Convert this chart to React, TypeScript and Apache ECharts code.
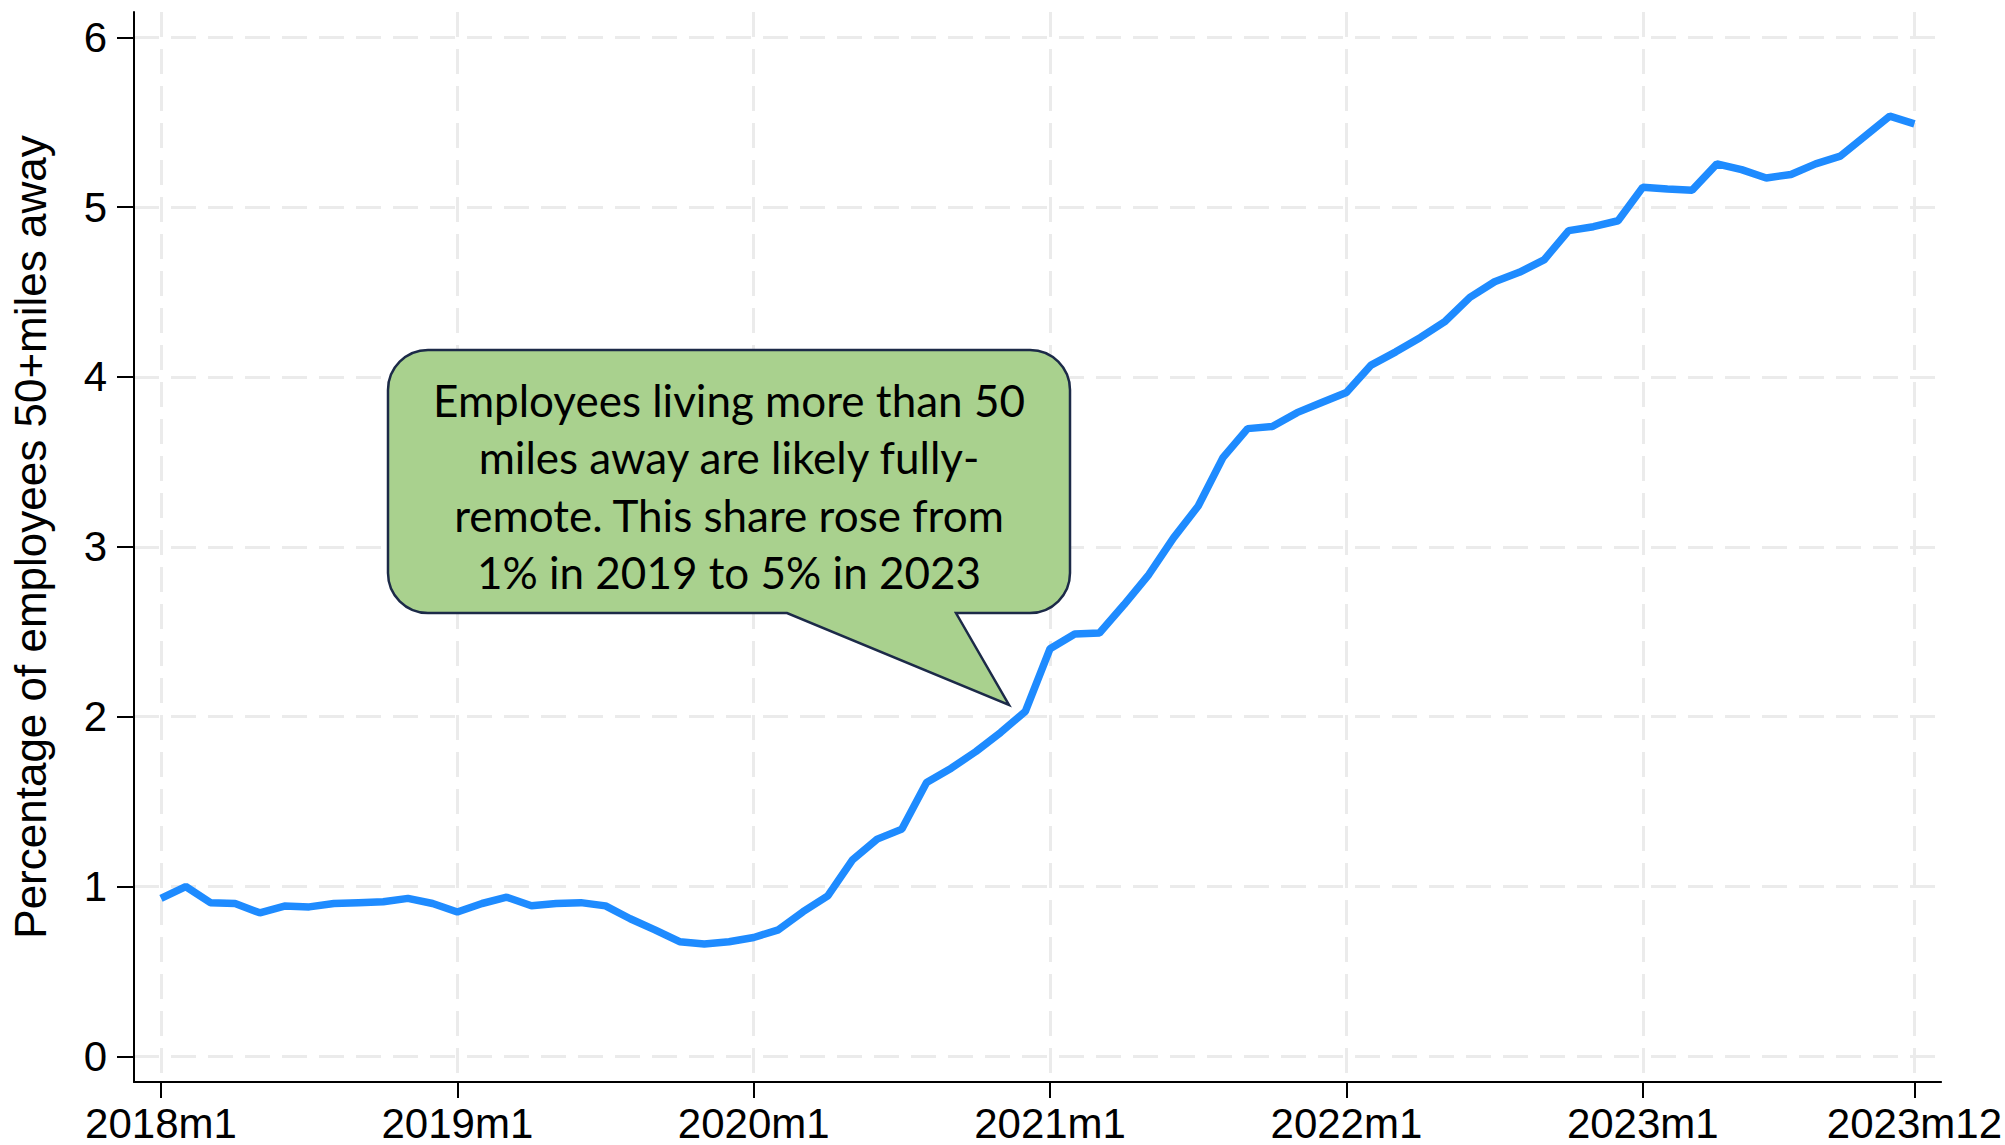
import React, { useEffect, useRef } from "react";
import * as echarts from "echarts";

const values2018 = [0.93, 1.0, 0.905, 0.9, 0.845, 0.885, 0.88, 0.9, 0.905, 0.91, 0.93, 0.9];
const values2019 = [0.85, 0.9, 0.937, 0.887, 0.9, 0.905, 0.886, 0.81, 0.745, 0.675, 0.662, 0.675];
const values2020 = [0.7, 0.745, 0.852, 0.945, 1.157, 1.279, 1.338, 1.613, 1.697, 1.795, 1.907, 2.031];
const values2021 = [2.4, 2.487, 2.493, 2.66, 2.837, 3.053, 3.24, 3.525, 3.696, 3.708, 3.79, 3.85];
const values2022 = [3.909, 4.07, 4.148, 4.233, 4.328, 4.469, 4.561, 4.616, 4.689, 4.862, 4.885, 4.92];
const values2023 = [5.117, 5.107, 5.1, 5.255, 5.221, 5.172, 5.192, 5.255, 5.3, 5.418, 5.536, 5.49];

const years = [2018, 2019, 2020, 2021, 2022, 2023];
const values = [...values2018, ...values2019, ...values2020, ...values2021, ...values2022, ...values2023];
const monthLabels: string[] = [];
years.forEach((y) => {
  for (let m = 1; m <= 12; m++) monthLabels.push(`${y}m${m}`);
});

const xTickMonths = [0, 12, 24, 36, 48, 60, 71];
const yTicks = [0, 1, 2, 3, 4, 5, 6];

const yTitle = "Percentage of employees 50+miles away";
const calloutText =
  "Employees living more than 50\nmiles away are likely fully-\nremote. This share rose from\n1% in 2019 to 5% in 2023";

const calloutPath =
  "M428,350 H1030 A40,40 0 0 1 1070,390 V573 A40,40 0 0 1 1030,613 H956 L1009,705 L787,613 H428 A40,40 0 0 1 388,573 V390 A40,40 0 0 1 428,350 Z";

let registered = false;

export default function App() {
  const ref = useRef<HTMLDivElement>(null);
  useEffect(() => {
    document.body.style.margin = "0";
    if (!registered) {
      echarts.graphic.registerShape("callout", echarts.graphic.extendPath(calloutPath, {}));
      registered = true;
    }
    const chart = echarts.init(ref.current!, null, { renderer: "svg" });
    const gridLine = { show: true, lineStyle: { type: [25, 12], color: "#ebebeb", width: 3 } };
    const labelFont = { fontSize: 42, fontFamily: "Liberation Sans", color: "#000" };
    chart.setOption({
      animation: false,
      backgroundColor: "#ffffff",
      grid: { left: 134, right: 63, top: 12, bottom: 63, containLabel: false },
      xAxis: {
        type: "value",
        min: -1.093,
        max: 72.08,
        axisLine: { show: true, onZero: false, lineStyle: { color: "#000", width: 2 } },
        axisTick: { show: true, length: 16, lineStyle: { color: "#000", width: 2 }, customValues: xTickMonths },
        axisLabel: {
          ...labelFont,
          lineHeight: 38,
          margin: 22,
          customValues: xTickMonths,
          formatter: (v: number) => monthLabels[Math.round(v)] ?? "",
        },
        splitLine: gridLine,
      },
      yAxis: {
        type: "value",
        min: -0.151,
        max: 6.149,
        axisLine: { show: true, onZero: false, lineStyle: { color: "#000", width: 2 } },
        axisTick: { show: true, length: 17, lineStyle: { color: "#000", width: 2 }, customValues: yTicks },
        axisLabel: { ...labelFont, margin: 27, customValues: yTicks, formatter: (v: number) => String(Math.round(v)) },
        splitLine: gridLine,
      },
      series: [
        {
          type: "line",
          data: values.map((v, i) => [i, v]),
          showSymbol: false,
          symbol: "none",
          lineStyle: { color: "#1e8bff", width: 7.5 },
          z: 3,
        },
      ],
      graphic: [
        {
          type: "callout",
          x: 0,
          y: 0,
          z: 10,
          style: { fill: "#a9d18e", stroke: "#1c2a48", lineWidth: 2.5 },
        },
        {
          type: "text",
          x: 729,
          y: 486,
          z: 11,
          style: {
            text: calloutText,
            fontSize: 44,
            fontFamily: "Lato",
            fill: "#000",
            lineHeight: 57.5,
            align: "center",
            verticalAlign: "middle",
          },
        },
        {
          type: "text",
          x: 30,
          y: 537,
          rotation: Math.PI / 2,
          style: {
            text: yTitle,
            fontSize: 44,
            fontFamily: "Liberation Sans",
            fill: "#000",
            align: "center",
            verticalAlign: "middle",
          },
        },
      ],
    });
    return () => chart.dispose();
  }, []);
  return <div ref={ref} style={{ width: 2005, height: 1145 }} />;
}
